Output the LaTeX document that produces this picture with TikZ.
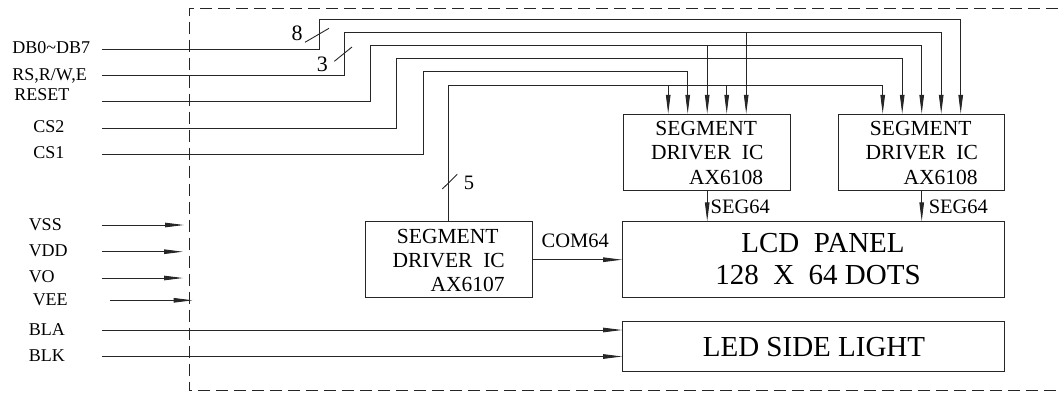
\documentclass[tikz,border=0pt]{standalone}
\usepackage{fontspec}
\setmainfont{Liberation Serif}
\usetikzlibrary{arrows.meta,positioning}

\begin{document}
\begin{tikzpicture}[x=1pt,y=-1pt,line width=0.9pt]
    \tikzstyle{wire}=[draw=black!85]
    \tikzstyle{feed}=[wire,-{Triangle[length=19pt,width=4.5pt]}]
    \tikzstyle{chip}=[rectangle,draw=black!85,minimum width=167pt,minimum height=76pt,inner sep=0pt]
    \tikzstyle{chip text}=[inner sep=0pt,text depth=0pt,font=\fontsize{21.5}{24}\selectfont]
    \tikzstyle{panel text}=[inner sep=0pt,text depth=0pt,font=\fontsize{29}{32}\selectfont]
    \tikzstyle{sig}=[anchor=west,inner sep=0pt,text depth=0pt,font=\fontsize{18}{20}\selectfont]
    \tikzstyle{bus}=[inner sep=0pt,text depth=0pt,font=\fontsize{20.5}{22}\selectfont]
    \tikzstyle{frame}=[draw=black!85,dash pattern=on 12pt off 6pt]

    \useasboundingbox (0,0) rectangle (1058,392);

    % Module outline
    \draw[frame] (1058,8.7) -- (189,8.7) -- (189,390.7) -- (1058,390.7);

    % Driver chips, panel and back light
    \node[chip] (seg1) at (707.2,152.3) {};
    \node[chip,minimum width=166pt] (seg2) at (921.7,152.3) {};
    \node[chip] (com) at (448.7,259.7) {};
    \node[chip,minimum width=381.3pt] (lcd) at (813.3,259.8) {};
    \node[chip,minimum width=381.3pt,minimum height=49.7pt] (led) at (813.3,346.2) {};

    \foreach \b/\n in {seg1/AX6108,seg2/AX6108,com/AX6107} {
        \node[chip text] (\b-l1) at ([xshift=-1pt,yshift=-15pt]\b.north) {SEGMENT};
        \node[chip text] (\b-l2) at ([yshift=-39pt]\b.north) {DRIVER\ \ IC};
        \node[chip text] (\b-l3) at ([xshift=19pt,yshift=-63pt]\b.north) {\n};
    }
    \node[panel text] (lcd-l1) at (823,243.3) {LCD\ \ PANEL};
    \node[panel text] (lcd-l2) at (818,275) {128\ \ X\ \ 64 DOTS};
    \node[panel text] (led-l1) at (814,346.7) {LED SIDE LIGHT};

    % Input pins of the segment drivers
    \foreach \i/\dx in {1/-39,2/-19.5,3/0,4/19.5,5/39} {
        \coordinate (s1-\i) at ([xshift=\dx pt]seg1.north);
        \coordinate (s2-\i) at ([xshift=\dx pt]seg2.north);
    }

    % Interface signals
    \node[sig] (db) at (12,47.8) {DB0\textasciitilde DB7};
    \node[sig] (rs) at (12,74.2) {RS,R/W,E};
    \node[sig] (reset) at (14,94.2) {RESET};
    \node[sig] (cs2) at (33,126.7) {CS2};
    \node[sig] (cs1) at (33,153) {CS1};

    \coordinate (db-in) at (102,49.3);
    \coordinate (rs-in) at (102,75.3);
    \coordinate (reset-in) at (102,101.7);
    \coordinate (cs2-in) at (102,128);
    \coordinate (cs1-in) at (102,154.4);

    \coordinate (db-bus) at (319,19.3);
    \coordinate (rs-bus) at (344.3,32.3);
    \coordinate (reset-bus) at (370.3,45.3);
    \coordinate (cs2-bus) at (396.7,58.7);
    \coordinate (cs1-bus) at (423.3,71.7);
    \coordinate (com-bus) at (449.3,85);

    \draw[feed] (db-in) -| (db-bus) -| (s2-5);
    \draw[feed] (rs-in) -| (rs-bus) -| (s2-4);
    \draw[feed] (s1-5 |- rs-bus) -- (s1-5);
    \draw[feed] (reset-in) -| (reset-bus) -| (s2-3);
    \draw[feed] (s1-3 |- reset-bus) -- (s1-3);
    \draw[feed] (cs2-in) -| (cs2-bus) -| (s2-2);
    \draw[feed] (cs1-in) -| (cs1-bus) -| (s1-2);
    \draw[feed] (com.north) -- (com.north |- com-bus) -| (s2-1);
    \draw[feed] (s1-1 |- com-bus) -- (s1-1);
    \draw[feed] (s1-4 |- com-bus) -- (s1-4);

    % Bus widths
    \draw[wire] (305,42.3) -- (329,28.3);
    \node[bus,font=\fontsize{22}{24}\selectfont] (n8) at (297,32.7) {8};
    \draw[wire] (334.3,61.3) -- (352,47);
    \node[bus,font=\fontsize{22}{24}\selectfont] (n3) at (322.3,64) {3};
    \draw[wire] (442.3,189) -- (457.3,174.3);
    \node[bus] (n5) at (469,182.3) {5};

    % Segment and common outputs
    \draw[feed] (seg1.south) -- (seg1.south |- lcd.north);
    \node[bus,anchor=west] (seg1-out) at ([xshift=3pt,yshift=-16.4pt]seg1.south) {SEG64};
    \draw[feed] (seg2.south) -- (seg2.south |- lcd.north);
    \node[bus,anchor=west] (seg2-out) at ([xshift=6.6pt,yshift=-16.4pt]seg2.south) {SEG64};
    \draw[feed] (com.east) -- (com.east -| lcd.west);
    \node[bus] (com-out) at (575.2,241) {COM64};

    % Supply pins
    \foreach \name/\txt/\lx/\y in {vss/VSS/28.3/225,vdd/VDD/28.3/250.8,vo/VO/28.3/276.8,vee/VEE/32.3/300}
        \node[sig] (\name) at (\lx,\y) {\txt};

    \coordinate (vss-in) at (102,225);
    \coordinate (vss-end) at (184,225);
    \coordinate (vdd-in) at (102,251.7);
    \coordinate (vdd-end) at (183,251.7);
    \coordinate (vo-in) at (102,278);
    \coordinate (vo-end) at (183,278);
    \coordinate (vee-in) at (110,300.3);
    \coordinate (vee-end) at (192.7,300.3);
    \foreach \name in {vss,vdd,vo,vee}
        \draw[feed] (\name-in) -- (\name-end);

    % Back light
    \node[sig] (bla) at (28.3,330) {BLA};
    \node[sig] (blk) at (28.3,356) {BLK};
    \coordinate (bla-in) at (102,330);
    \coordinate (blk-in) at (102,356.5);
    \draw[feed] (bla-in) -- (bla-in -| led.west);
    \draw[feed] (blk-in) -- (blk-in -| led.west);
\end{tikzpicture}
\end{document}
